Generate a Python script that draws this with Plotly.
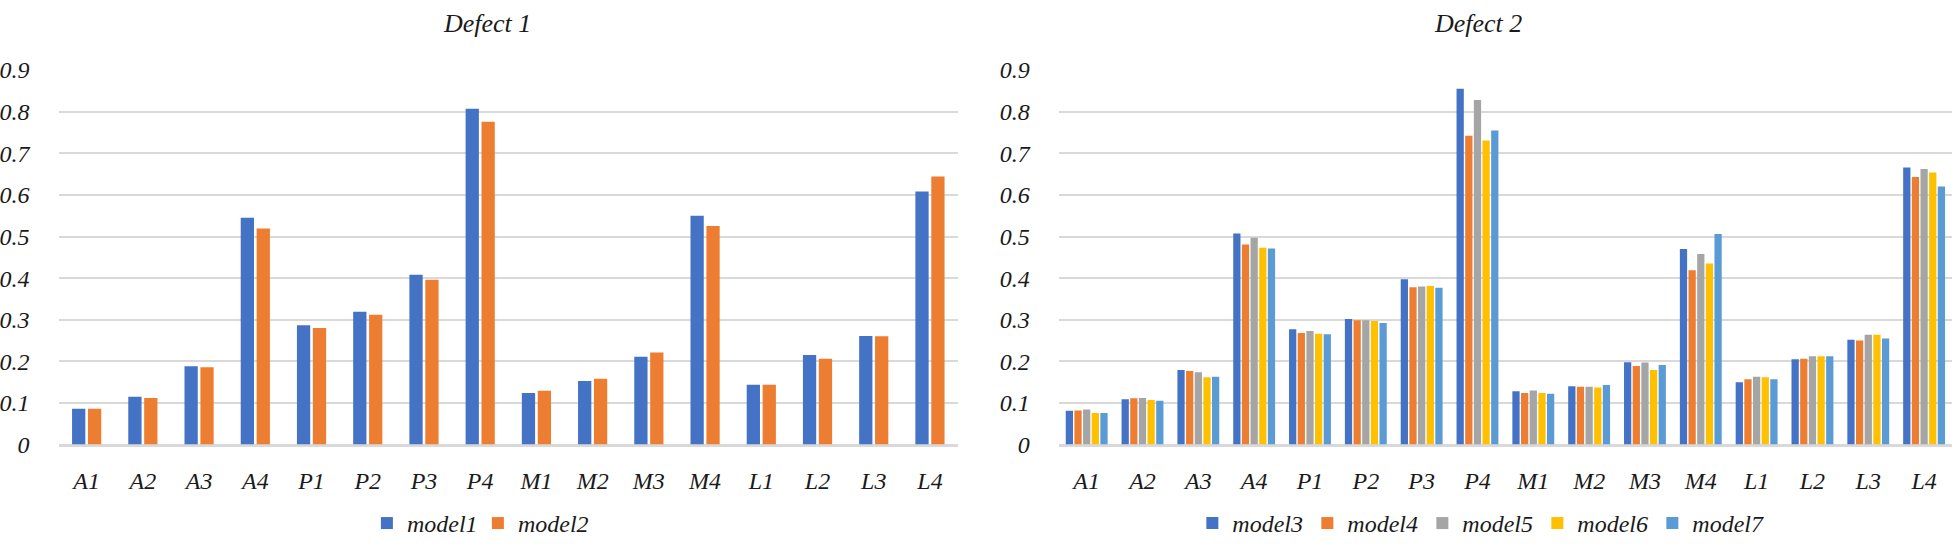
import plotly.graph_objects as go

categories = ["A1", "A2", "A3", "A4", "P1", "P2", "P3", "P4",
              "M1", "M2", "M3", "M4", "L1", "L2", "L3", "L4"]
y_ticks = [0, 0.1, 0.2, 0.3, 0.4, 0.5, 0.6, 0.7, 0.8, 0.9]
y_tick_labels = ["0", "0.1", "0.2", "0.3", "0.4", "0.5", "0.6", "0.7", "0.8", "0.9"]

title_1 = "Defect 1"
title_2 = "Defect 2"

model1 = [0.086, 0.115, 0.188, 0.545, 0.287, 0.319, 0.408, 0.807,
          0.124, 0.153, 0.211, 0.550, 0.144, 0.215, 0.261, 0.608]
model2 = [0.086, 0.112, 0.186, 0.519, 0.280, 0.312, 0.396, 0.776,
          0.129, 0.158, 0.221, 0.525, 0.144, 0.206, 0.260, 0.644]

model3 = [0.081, 0.109, 0.179, 0.507, 0.277, 0.302, 0.397, 0.855,
          0.128, 0.140, 0.198, 0.470, 0.150, 0.205, 0.252, 0.666]
model4 = [0.082, 0.111, 0.177, 0.481, 0.268, 0.299, 0.378, 0.742,
          0.124, 0.139, 0.189, 0.419, 0.157, 0.206, 0.250, 0.643]
model5 = [0.084, 0.112, 0.174, 0.497, 0.273, 0.299, 0.380, 0.828,
          0.130, 0.139, 0.197, 0.458, 0.163, 0.212, 0.264, 0.662]
model6 = [0.076, 0.107, 0.162, 0.473, 0.266, 0.297, 0.381, 0.731,
          0.124, 0.137, 0.179, 0.435, 0.162, 0.212, 0.264, 0.654]
model7 = [0.076, 0.105, 0.163, 0.471, 0.265, 0.292, 0.377, 0.755,
          0.122, 0.143, 0.191, 0.506, 0.157, 0.212, 0.255, 0.620]

left_series = [("model1", model1), ("model2", model2)]
right_series = [("model3", model3), ("model4", model4), ("model5", model5),
                ("model6", model6), ("model7", model7)]

colors = {"model1": "#4472C4", "model2": "#ED7D31",
          "model3": "#4472C4", "model4": "#ED7D31", "model5": "#A5A5A5",
          "model6": "#FFC000", "model7": "#5B9BD5"}

FONT = "Liberation Serif, Times New Roman, serif"
TEXT = "#1a1a1a"
GRID = "#d9d9d9"
W, H = 1958, 546

fig = go.Figure()


def add_group(series, xaxis, yaxis, legend, bar_w, pitch):
    n = len(series)
    span = (n - 1) * pitch + bar_w
    start = -span / 2
    for i, (name, vals) in enumerate(series):
        fig.add_trace(go.Bar(
            x=categories, y=vals, name=name,
            xaxis=xaxis, yaxis=yaxis, legend=legend,
            marker=dict(color=colors[name], line=dict(width=0)),
            width=bar_w, offset=start + i * pitch,
        ))


add_group(left_series, "x", "y", "legend", 0.236, 0.283)
add_group(right_series, "x2", "y2", "legend2", 0.130, 0.155)

# pixel geometry -> paper fractions
y0_px, top_px = 453.3, 60.0
yrange = [0, 0.902]
ydom = [(H - y0_px) / H, (H - top_px) / H]

tickfont = dict(family=FONT, size=24, color=TEXT, style="italic")
legfont = dict(family=FONT, size=24, color=TEXT, style="italic")

xaxis_common = dict(
    type="category", tickfont=tickfont, showgrid=False,
    showline=True, linecolor=GRID, linewidth=2,
    ticks="", ticklabelstandoff=14, fixedrange=True,
)
yaxis_common = dict(
    range=yrange, tickvals=y_ticks, ticktext=y_tick_labels, tickfont=tickfont,
    showgrid=True, gridcolor=GRID, gridwidth=2,
    zeroline=True, zerolinecolor=GRID, zerolinewidth=2,
    showline=False, ticks="", ticklabelstandoff=28, fixedrange=True,
)

leg_y = (H - 536) / H

fig.update_layout(
    width=W, height=H,
    margin=dict(l=0, r=0, t=0, b=0),
    paper_bgcolor="white", plot_bgcolor="white",
    barmode="overlay",
    showlegend=True,
    xaxis=dict(domain=[52.7 / W, 955 / W], anchor="y", **xaxis_common),
    yaxis=dict(domain=ydom, anchor="x", **yaxis_common),
    xaxis2=dict(domain=[1056 / W, 1952 / W], anchor="y2", **xaxis_common),
    yaxis2=dict(domain=ydom, anchor="x2", **yaxis_common),
    legend=dict(orientation="h", x=362 / W, xanchor="left",
                y=leg_y, yanchor="middle", entrywidth=66, entrywidthmode="pixels",
                font=legfont, bgcolor="rgba(0,0,0,0)",
                itemclick=False, itemdoubleclick=False),
    legend2=dict(orientation="h", x=1190 / W, xanchor="left",
                 y=leg_y, yanchor="middle", entrywidth=70, entrywidthmode="pixels",
                 font=legfont, bgcolor="rgba(0,0,0,0)",
                 itemclick=False, itemdoubleclick=False),
    annotations=[
        dict(text=title_1, x=482 / W, y=(H - 12) / H, xref="paper", yref="paper",
             xanchor="center", yanchor="middle", showarrow=False,
             font=dict(family=FONT, size=26, color=TEXT, style="italic")),
        dict(text=title_2, x=1477 / W, y=(H - 12) / H, xref="paper", yref="paper",
             xanchor="center", yanchor="middle", showarrow=False,
             font=dict(family=FONT, size=26, color=TEXT, style="italic")),
    ],
)

fig.write_html(
    "out.html",
    config={"displayModeBar": False},
    post_script="document.body.style.margin='0';document.body.style.overflow='hidden';",
)
